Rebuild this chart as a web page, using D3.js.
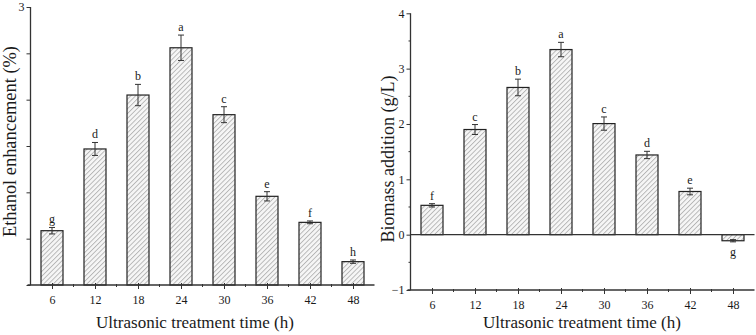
<!DOCTYPE html>
<html>
<head>
<meta charset="utf-8">
<script src="https://cdn.jsdelivr.net/npm/d3@7"></script>
<style>
  body { margin:0; background:#fff; }
</style>
</head>
<body>
<div id="chart"></div>
<script>
// data
var hours = [6, 12, 18, 24, 30, 36, 42, 48];

var ethanol = [0.586, 1.468, 2.05, 2.56, 1.838, 0.957, 0.676, 0.252];
var ethanolErr = [0.035, 0.07, 0.115, 0.137, 0.086, 0.05, 0.015, 0.018];
var ethanolLetters = ["g", "d", "b", "a", "c", "e", "f", "h"];
var ethanolTicks = [0, 0.5, 1, 1.5, 2, 2.5, 3];
var ethanolTickLabels = ["", "", "", "", "", "", "3"];

var biomass = [0.53, 1.9, 2.66, 3.345, 2.007, 1.44, 0.78, -0.11];
var biomassErr = [0.03, 0.09, 0.15, 0.13, 0.12, 0.066, 0.06, 0.02];
var biomassLetters = ["f", "c", "b", "a", "c", "d", "e", "g"];
var biomassTicks = [-1, 0, 1, 2, 3, 4];
var biomassMinor = [-0.5, 0.5, 1.5, 2.5, 3.5];

var xMinor = [9, 15, 21, 27, 33, 39, 45];

var W = 756, H = 335;
var serif = "Liberation Serif";

var svg = d3.select("#chart")
    .append("svg")
    .attr("width", W)
    .attr("height", H);

// hatch pattern
var pat = svg.append("defs")
    .append("pattern")
    .attr("id", "hatch")
    .attr("patternUnits", "userSpaceOnUse")
    .attr("width", 3.4)
    .attr("height", 3.4)
    .attr("patternTransform", "rotate(45)");
pat.append("rect")
    .attr("width", 3.4).attr("height", 3.4)
    .attr("fill", "#f6f6f6");
pat.append("line")
    .attr("x1", 0.5).attr("y1", 0)
    .attr("x2", 0.5).attr("y2", 3.4)
    .attr("stroke", "#aaa")
    .attr("stroke-width", 0.8);

function label(sel) {
    return sel.style("font-family", serif).attr("fill", "#1a1a1a");
}

function drawPanel(opts) {
    var g = svg.append("g");
    var x = d3.scaleLinear().domain([3, 51]).range(opts.xr);
    var y = d3.scaleLinear().domain(opts.yd).range(opts.yr);
    var barW = 22;

    // y axis
    var yAxis = d3.axisLeft(y)
        .tickValues(opts.yTicks)
        .tickSize(4)
        .tickFormat(function(d, i) { return opts.yLabels ? opts.yLabels[i] : d3.format("d")(d); });
    var ya = g.append("g")
        .attr("transform", "translate(" + opts.xr[0] + ",0)")
        .call(yAxis);
    ya.select(".domain").attr("stroke", "#333").attr("stroke-width", 1.3)
        .attr("d", "M0," + y(opts.yd[0]) + "V" + y(opts.yd[1]));
    ya.selectAll(".tick line").attr("stroke", "#333");
    label(ya.selectAll("text")).attr("font-size", 12).attr("x", -6);

    if (opts.yMinor) {
        g.selectAll(".yminor")
            .data(opts.yMinor)
            .enter().append("line")
            .attr("x1", opts.xr[0] - 2).attr("x2", opts.xr[0])
            .attr("y1", function(d) { return y(d); })
            .attr("y2", function(d) { return y(d); })
            .attr("stroke", "#333");
    }

    // bars
    g.selectAll(".bar")
        .data(opts.values)
        .enter().append("rect")
        .attr("x", function(d, i) { return x(hours[i]) - barW / 2; })
        .attr("y", function(d) { return y(Math.max(d, 0)); })
        .attr("width", barW)
        .attr("height", function(d) { return Math.abs(y(d) - y(0)); })
        .attr("fill", "url(#hatch)")
        .attr("stroke", "#222")
        .attr("stroke-width", 1.2);

    // error bars
    opts.values.forEach(function(v, i) {
        var cx = x(hours[i]), e = opts.err[i];
        var lo = y(v - e), hi = y(v + e);
        g.append("line").attr("x1", cx).attr("x2", cx).attr("y1", lo).attr("y2", hi)
            .attr("stroke", "#333").attr("stroke-width", 1);
        [lo, hi].forEach(function(yy) {
            g.append("line").attr("x1", cx - 3).attr("x2", cx + 3).attr("y1", yy).attr("y2", yy)
                .attr("stroke", "#333").attr("stroke-width", 1);
        });
        var neg = v < 0;
        label(g.append("text"))
            .attr("x", cx)
            .attr("y", neg ? y(v - e) + 14 : y(v + e) - 4)
            .attr("text-anchor", "middle")
            .attr("font-size", 12)
            .text(opts.letters[i]);
    });

    // zero line
    if (opts.yd[0] < 0) {
        g.append("line")
            .attr("x1", opts.xr[0]).attr("x2", opts.xr[1])
            .attr("y1", y(0)).attr("y2", y(0))
            .attr("stroke", "#333").attr("stroke-width", 1.3);
    }

    // x axis
    var xBase = y(opts.yd[0]);
    var xAxis = d3.axisBottom(x).tickValues(hours).tickSize(4).tickFormat(d3.format("d"));
    var xa = g.append("g")
        .attr("transform", "translate(0," + xBase + ")")
        .call(xAxis);
    xa.select(".domain").attr("stroke", "#333").attr("stroke-width", 1.3)
        .attr("d", "M" + (opts.xr[0] - 3) + ",0H" + opts.xr[1]);
    xa.selectAll(".tick line").attr("stroke", "#333").attr("y1", -2);
    label(xa.selectAll("text")).attr("font-size", 12).attr("y", 10);

    g.selectAll(".xminor")
        .data(xMinor)
        .enter().append("line")
        .attr("x1", function(d) { return x(d); })
        .attr("x2", function(d) { return x(d); })
        .attr("y1", xBase - 1).attr("y2", xBase + 2)
        .attr("stroke", "#333");

    // titles
    label(g.append("text"))
        .attr("x", opts.xTitleX)
        .attr("y", 328)
        .attr("text-anchor", "middle")
        .attr("font-size", 17)
        .text("Ultrasonic treatment time (h)");

    label(g.append("text"))
        .attr("transform", "translate(" + opts.yTitleX + "," + opts.yTitleY + ") rotate(-90)")
        .attr("text-anchor", "middle")
        .attr("font-size", opts.yTitleSize)
        .text(opts.yTitle);
}

drawPanel({
    xr: [30.5, 374.5],
    yd: [0, 3],
    yr: [285, 7],
    yTicks: ethanolTicks,
    yLabels: ethanolTickLabels,
    values: ethanol,
    err: ethanolErr,
    letters: ethanolLetters,
    xTitleX: 195,
    yTitle: "Ethanol enhancement (%)",
    yTitleSize: 18.4,
    yTitleX: 16,
    yTitleY: 141.5
});

drawPanel({
    xr: [410.5, 754.5],
    yd: [-1, 4],
    yr: [290, 13.3],
    yTicks: biomassTicks,
    yMinor: biomassMinor,
    values: biomass,
    err: biomassErr,
    letters: biomassLetters,
    xTitleX: 582,
    yTitle: "Biomass addition (g/L)",
    yTitleSize: 18,
    yTitleX: 394,
    yTitleY: 159
});
</script>
</body>
</html>
